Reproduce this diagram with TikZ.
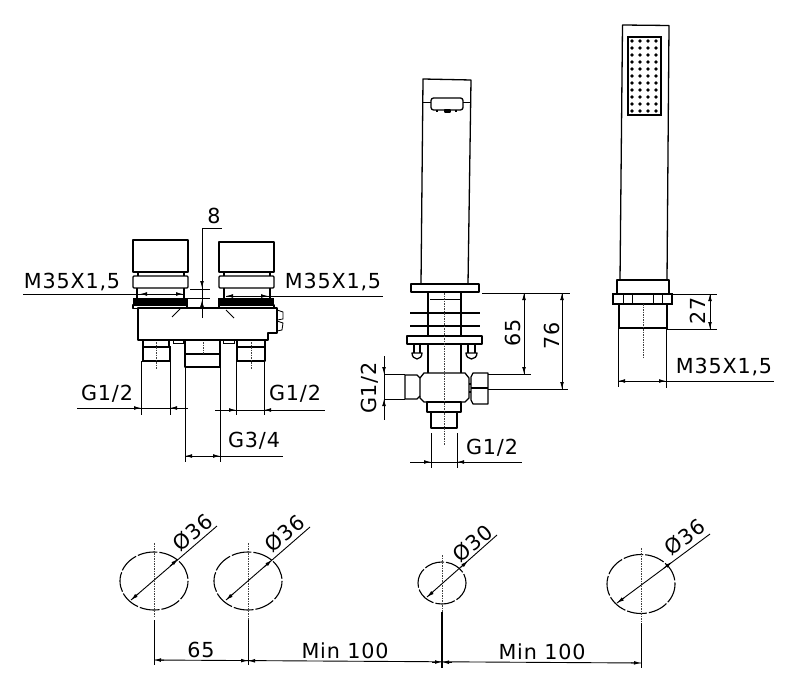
\documentclass[tikz,border=0pt]{standalone}
\usepackage{fontspec}
\setmainfont[LetterSpace=4]{DejaVu Sans}
\usepackage{tikz}
\usetikzlibrary{arrows.meta}
\tikzstyle{part}=[line width=1.3pt,line join=round]
\tikzstyle{heavy}=[line width=2pt]
\tikzstyle{thin line}=[line width=.8pt]
\tikzstyle{dimline}=[line width=.9pt]
\tikzstyle{dimtip}=[line width=.9pt,-{Latex[length=7pt,width=3.8pt]}]
\tikzstyle{axis}=[line width=.8pt,dash pattern=on 1.5pt off 1pt,black!75]
\tikzstyle{hole}=[line width=1.1pt,dash pattern=on 20pt off 2pt]
\tikzstyle{lbl}=[inner sep=0pt,font=\fontsize{20.7}{24}\selectfont]
\begin{document}
\begin{tikzpicture}[x=1pt,y=-1pt]
\useasboundingbox (0,0) rectangle (799,692);
% mixer body
\draw[part] (133,240) rectangle (188,272);
\draw[part] (219,242) rectangle (274,272);
\draw[part] (138,272) -- (138,276) (184,272) -- (184,276) (224,272) -- (224,276) (270,272) -- (270,276);
\draw[part,rounded corners=1pt] (133,276) rectangle (188,288);
\draw[part,rounded corners=1pt] (219,276) rectangle (274,288);
\draw[part] (137,288) -- (137,298) (184,288) -- (184,298) (224,288) -- (224,298) (270,288) -- (270,298);
\fill (133,298) rectangle (187,305);
\fill (219,298) rectangle (274,305);
\draw[part] (133,305) rectangle (187,308.5);
\draw[part] (219,305) rectangle (274,308.5);
\draw[part] (187,298) -- (187,308) (219,298) -- (219,308);
\draw[part] (138,308) -- (138,340) -- (268,340) -- (268,333) -- (277,333) -- (277,308) -- cycle;
\draw[thin line] (172,317) -- (180,309) (226,310) -- (234,318);
\draw[thin line] (277,310) -- (283,312) -- (283,319) -- (277,320) (277,321) -- (283,323) -- (282,330) -- (277,331);
\draw[thin line] (173,340) rectangle (183,343) (223,340) rectangle (234,343);
% connectors below the body
\draw[part] (143,340) -- (143,347) (169,340) -- (169,347);
\draw[heavy] (143,347) rectangle (170,361);
\draw[part] (185,340) -- (185,367) -- (220,367) -- (220,340) (186,354) -- (220,354);
\draw[part] (237,340) rectangle (265,347);
\draw[part] (237,347) rectangle (265,361);
\draw[axis] (156,342) -- (156,369) (203,342) -- (203,354) (251,342) -- (251,369);
% spout
\draw[part] (421,284) -- (423,79) -- (471,80) -- (468,284);
\draw[part,fill=white,rounded corners=2.5pt] (431,98) rectangle (463,110);
\draw[thin line] (423,102) -- (431,102) (463,102) -- (470,102);
\draw[part] (437,110) -- (437,112) (456,110) -- (456,112) (445,110) rectangle (450,112);
\draw[part] (411,284) rectangle (479,292);
\draw[heavy] (428,292) -- (428,373) (461,292) -- (461,373);
\draw[thin line] (430,299) -- (460,299);
\draw[heavy] (410,313) -- (480,313) (410,326) -- (480,326);
\draw[part,fill=white] (407,336) rectangle (482,344);
\draw[part] (414,344) -- (414,353) (420,344) -- (420,353) (468,344) -- (468,353) (475,344) -- (475,353);
\draw[part] (412,353) -- (422,353) arc[start angle=0,end angle=180,x radius=5,y radius=6] -- cycle;
\draw[part] (466,353) -- (477,353) arc[start angle=0,end angle=180,x radius=5.5,y radius=6] -- cycle;
\draw[part] (424,373) -- (465,373) -- (469,378) -- (469,398) -- (465,402) -- (424,402) -- (420,398) -- (420,378) -- cycle;
\draw[part] (420,378) -- (417,375) -- (405,375) -- (405,399) -- (417,399) -- (420,396);
\draw[part] (473,373) -- (488,373) -- (488,404) -- (473,404) -- (471,400) -- (471,377) -- cycle;
\draw[part] (471,388) -- (488,388);
\draw[part] (469,384) -- (471,384) (469,392) -- (471,392);
\draw[part] (427,402) rectangle (461,412);
\draw[part] (431,412) rectangle (457,428);
\draw[axis] (444,293) -- (444,445);
% hand shower
\draw[part] (620,280) -- (622.5,25) -- (669,25.5) -- (667,280);
\draw[heavy] (628,37) rectangle (661,115);
\foreach \x in {632,640,648,656}
  \foreach \y in {41,48,55,62,69,76,83,90,97,104,111}
    \fill (\x,\y) circle (1.9);
\draw[part] (617,280) rectangle (669,294);
\draw[heavy] (613,294) rectangle (672,304);
\draw[thin line] (623,294) -- (623,304) (632,294) -- (632,304) (653,294) -- (653,304) (662,294) -- (662,304);
\draw[part] (619,304) -- (619,328) (667,304) -- (667,328);
\draw[heavy] (618,328) -- (668,328);
\draw[axis] (643,304) -- (643,357);
% mounting holes
\draw[hole] (154,581) ellipse (34 and 29);
\draw[hole] (248,581) ellipse (34 and 29);
\draw[hole] (442,583) ellipse (24 and 21);
\draw[hole] (641,584) ellipse (34 and 29.5);
\draw[axis] (154,543) -- (154,618) (248,543) -- (248,620) (442,555) -- (442,612) (641,548) -- (641,623);
% dimension lines
\draw[dimline] (202,228) -- (222,228) (202,228) -- (202,318);
\draw[thin line] (190,289) -- (210,289) (187,298) -- (210,298);
\draw[dimline] (23,294) -- (183,294) (226,296) -- (383,296);
\draw[dimline] (141,361) -- (141,415) (170,361) -- (170,415) (77,408) -- (188,408);
\draw[dimline] (236,361) -- (236,415) (264,361) -- (264,415) (215,410) -- (325,410);
\draw[dimline] (185,367) -- (185,462) (220,367) -- (220,462) (185,456) -- (283,456);
\draw[dimline] (431,433) -- (431,468) (457,433) -- (457,468) (410,462) -- (522,462);
\draw[dimline] (385,374) -- (405,374) (385,399) -- (405,399) (384,356) -- (384,420);
\draw[dimline] (482,293) -- (570,293) (524,293) -- (524,374) (562,293) -- (562,389) (488,374) -- (531,374) (488,389) -- (568,389);
\draw[dimline] (672,294) -- (717,294) (667,329) -- (717,329) (710,294) -- (710,329);
\draw[dimline] (618,328) -- (618,387) (666,328) -- (666,388) (618,381) -- (774,381);
\draw[dimline] (154,620) -- (154,665) (248,620) -- (248,665) (641,623) -- (641,668);
\draw[heavy] (442,612) -- (442,668);
\draw[dimline] (154,660) -- (641,663);
\draw[dimline] (131,600) -- (217,526) (226,600) -- (310,527) (427,597) -- (497,535) (617,603) -- (710,534);
\foreach \from/\to in {{148,294}/{140,294},{175,294}/{183,294},{234,296}/{226,296},{260,296}/{268,296},
  {202,274}/{202,288},{202,318}/{202,300},{132,408}/{141,408},{179,408}/{170,408},{226,410}/{236,410},{273,410}/{264,410},
  {194,456}/{185,456},{211,456}/{220,456},{420,462}/{431,462},{468,462}/{457,462},{384,364}/{384,374},{384,410}/{384,399},
  {524,303}/{524,293},{524,364}/{524,374},{562,303}/{562,293},{562,379}/{562,389},{710,304}/{710,294},{710,319}/{710,329},
  {628,381}/{618,381},{656,381}/{666,381},{164,660.1}/{154,660},{238,660.6}/{248,660.6},{258,660.8}/{248,660.8},
  {432,662}/{442,662},{452,662.2}/{442,662.2},{631,662.8}/{641,663},{138,594}/{131,600},{170,566}/{178,559},
  {233,594}/{226,600},{264,567}/{272,560},{433,592}/{427,597},{461,567}/{468,561},{624,598}/{617,603},{664,568}/{672,562}}
  \draw[dimtip] (\from) -- (\to);
% labels
\node[lbl] (thread l) at (72,282) {M35X1,5};
\node[lbl] (thread r) at (333,282) {M35X1,5};
\node[lbl] (thread h) at (724,367) {M35X1,5};
\node[lbl] (width c) at (214,216) {8};
\node[lbl] (inlet l) at (107,394) {G1/2};
\node[lbl] (inlet r) at (295,394) {G1/2};
\node[lbl] (outlet) at (254,441) {G3/4};
\node[lbl] (inlet v) at (492,448) {G1/2};
\node[lbl,rotate=90] (side v) at (370,388) {G1/2};
\node[lbl,rotate=90] (rise a) at (513,333) {65};
\node[lbl,rotate=90] (rise b) at (552,336) {76};
\node[lbl,rotate=90] (rise c) at (698,311) {27};
\node[lbl,rotate=40] (bore a) at (193,532) {Ø36};
\node[lbl,rotate=40] (bore b) at (285,533) {Ø36};
\node[lbl,rotate=40] (bore c) at (473,543) {Ø30};
\node[lbl,rotate=37] (bore d) at (685,537) {Ø36};
\node[lbl] (gap a) at (201,650) {65};
\node[lbl] (gap b) at (345,651) {Min 100};
\node[lbl] (gap c) at (542,652) {Min 100};
\end{tikzpicture}
\end{document}
